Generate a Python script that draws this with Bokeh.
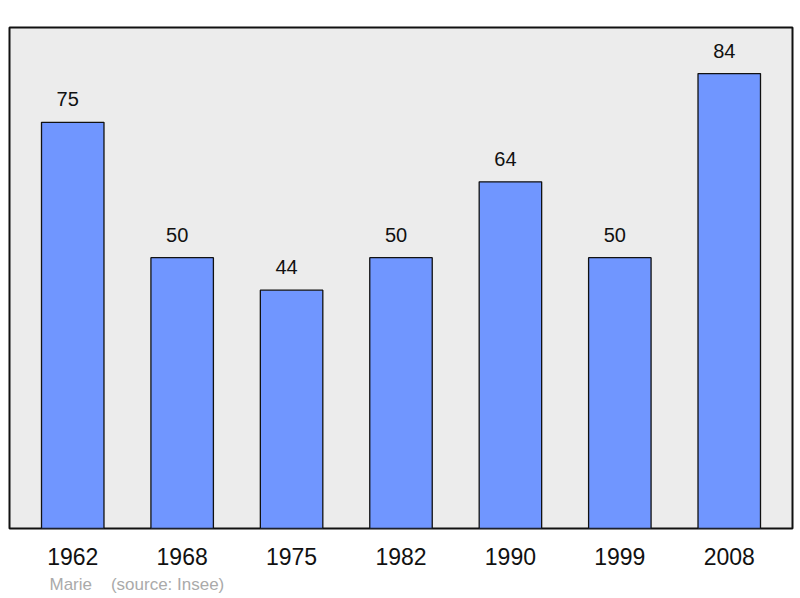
from bokeh.plotting import figure
from bokeh.models import ColumnDataSource, LabelSet, Title, FactorRange, Range1d
from bokeh.core.properties import value
from bokeh.embed import file_html
from bokeh.resources import INLINE

# population by census year
years = ["1962", "1968", "1975", "1982", "1990", "1999", "2008"]
population = [75, 50, 44, 50, 64, 50, 84]
labels = [str(v) for v in population]

src = ColumnDataSource(data=dict(year=years, pop=population, label=labels))

p = figure(frame_width=783, frame_height=501, output_backend="svg", toolbar_location=None, tools="",
           x_range=FactorRange(factors=years, range_padding=0.078, range_padding_units="absolute"),
           y_range=Range1d(0, 92.5),
           min_border_left=9, min_border_right=2, min_border_top=27, min_border_bottom=0)

p.background_fill_color = "#ececec"
p.border_fill_color = "white"
p.outline_line_color = "#111111"
p.outline_line_width = 2
p.grid.visible = False
p.yaxis.visible = False

p.vbar(x="year", top="pop", width=0.571, source=src,
       fill_color="#7096ff", line_color="#111111", line_width=1.3)

lbl = LabelSet(x="year", y="pop", text="label", source=src, text_align="center",
               text_baseline="alphabetic", x_offset=-5, y_offset=16,
               text_font=value("Liberation Sans"), text_font_size="20px", text_color="#111111")
p.add_layout(lbl)

ax = p.xaxis[0]
ax.axis_line_color = None
ax.major_tick_line_color = None
ax.minor_tick_line_color = None
ax.major_label_standoff = 13
ax.major_label_text_font = "Liberation Sans"
ax.major_label_text_font_size = "23px"
ax.major_label_text_color = "#111111"

note = Title(text="Marie\u00a0\u00a0\u00a0 (source: Insee)", align="left", offset=40,
             text_font="Liberation Sans", text_font_size="17px", text_font_style="normal",
             text_color="#aaaaaa", standoff=11)
p.add_layout(note, "below")

open("out.html", "w").write(file_html(p, INLINE))
